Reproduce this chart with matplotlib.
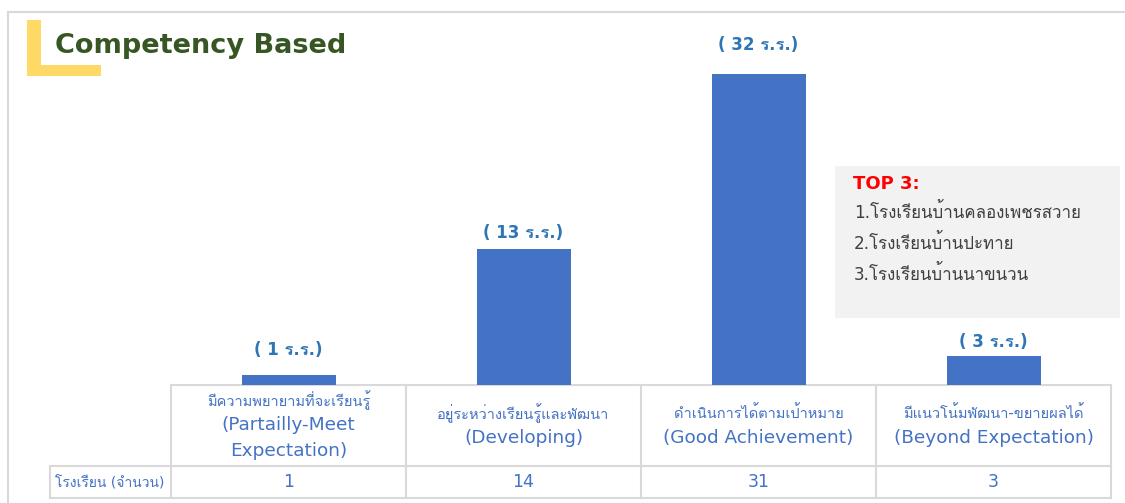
import matplotlib.pyplot as plt
from matplotlib import font_manager
from matplotlib.ft2font import FT2Font
from matplotlib.patches import Rectangle

# find a font that has Thai glyphs
thai_font = None
for f in font_manager.fontManager.ttflist:
    try:
        if FT2Font(f.fname).get_char_index(ord('ก')):
            thai_font = f.name
            break
    except Exception:
        pass
fams = ['DejaVu Sans'] + ([thai_font] if thai_font else [])
plt.rcParams['font.family'] = fams

# data
thai_labels = ['มีความพยายามที่จะเรียนรู้', 'อยู่ระหว่างเรียนรู้และพัฒนา',
               'ดำเนินการได้ตามเป้าหมาย', 'มีแนวโน้มพัฒนา-ขยายผลได้']
eng_labels = ['(Partailly-Meet\nExpectation)', '(Developing)',
              '(Good Achievement)', '(Beyond Expectation)']
bar_values = [1, 14, 32, 3]
bar_texts = ['( 1 ร.ร.)', '( 13 ร.ร.)', '( 32 ร.ร.)', '( 3 ร.ร.)']
table_values = [1, 14, 31, 3]
row_label = 'โรงเรียน (จำนวน)'
top3_title = 'TOP 3:'
top3 = ['1.โรงเรียนบ้านคลองเพชรสวาย', '2.โรงเรียนบ้านปะทาย', '3.โรงเรียนบ้านนาขนวน']

# label gap above each bar (points), as placed in the original
label_pad = [18, 11.5, 21, 10]

W, H = 1125, 503
fig = plt.figure(figsize=(W / 100, H / 100), dpi=100)

# background layer in pixel coords
ax0 = fig.add_axes([0, 0, 1, 1])
ax0.set_xlim(0, W)
ax0.set_ylim(H, 0)
ax0.axis('off')

# outer frame
ax0.plot([8, W], [12, 12], color='#D9D9D9', lw=1.5)
ax0.plot([8, 8], [12, H], color='#D9D9D9', lw=1.5)

# yellow L
ax0.add_patch(Rectangle((27, 20), 14, 56, color='#FFD966', lw=0))
ax0.add_patch(Rectangle((27, 65), 74, 11, color='#FFD966', lw=0))
ax0.text(55, 46, 'Competency Based', fontsize=19.5, fontweight='bold',
         color='#375623', va='center', ha='left')

# table
col_x = [171, 406, 641, 876, 1111]
tc = '#D9D9D9'
ax0.plot([171, 1111], [385, 385], color=tc, lw=1.5)
ax0.plot([50, 1111], [466, 466], color=tc, lw=1.5)
ax0.plot([50, 1111], [498, 498], color=tc, lw=1.5)
ax0.plot([50, 50], [466, 498], color=tc, lw=1.5)
for x in col_x:
    ax0.plot([x, x], [385, 498], color=tc, lw=1.5)

txt_c = '#4472C4'
for i in range(4):
    cx = (col_x[i] + col_x[i + 1]) / 2
    n = 1 + eng_labels[i].count('\n') + 1
    y0 = 425.5 - (n - 1) * 25 / 2
    ax0.text(cx, y0, thai_labels[i], fontsize=10.5, color=txt_c, ha='center', va='center')
    ax0.text(cx, y0 + 12.5 * n, eng_labels[i], fontsize=13.3, color=txt_c,
             ha='center', va='center', linespacing=1.5)
    ax0.text(cx, 482, str(table_values[i]), fontsize=12.5, color=txt_c,
             ha='center', va='center')
ax0.text(55, 482, row_label, fontsize=10, color=txt_c, ha='left', va='center')

# TOP 3 box
ax0.add_patch(Rectangle((835, 166), 285, 152, color='#F2F2F2', lw=0))
ax0.text(853, 184, top3_title, fontsize=13, fontweight='bold', color='#FF0000',
         ha='left', va='center')
for j, s in enumerate(top3):
    ax0.text(854, 212 + j * 31, s, fontsize=12.2, color='#404040', ha='left', va='center')

# bars
ax = fig.add_axes([171 / W, (H - 385) / H, 940 / W, 365 / H])
ax.patch.set_alpha(0)
ax.bar(range(4), bar_values, width=0.4, color='#4472C4')
ax.set_xlim(-0.5, 3.5)
ax.set_ylim(0, 365 / 9.709)
ax.axis('off')
for i, v in enumerate(bar_values):
    ax.annotate(bar_texts[i], (i, v), xytext=(0, label_pad[i]), textcoords='offset points',
                ha='center', va='center', fontsize=12, fontweight='bold', color='#2E75B6')

plt.savefig('out.png', dpi=100)
